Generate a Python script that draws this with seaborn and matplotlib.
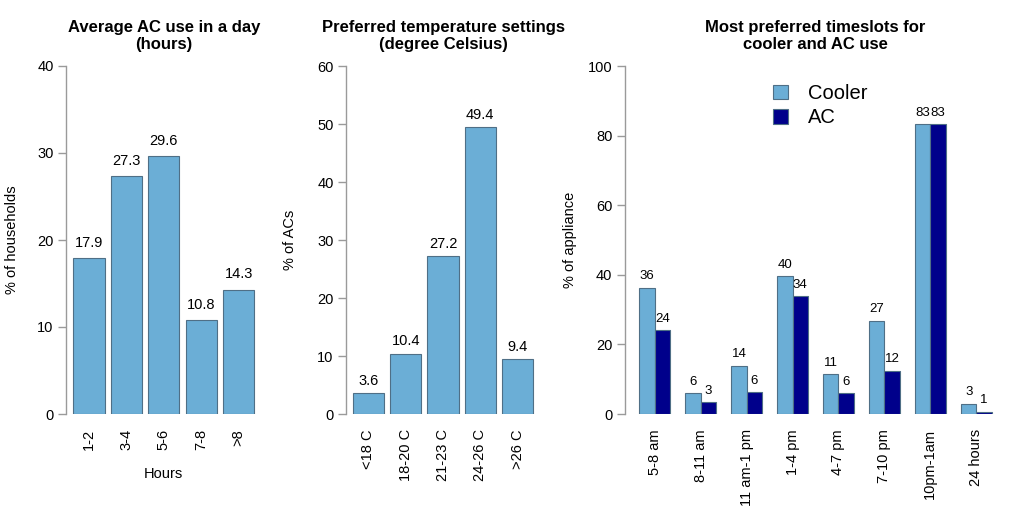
import numpy as np
import pandas as pd
import matplotlib
matplotlib.use("Agg")
import matplotlib.pyplot as plt
import matplotlib.transforms as mtrans
import seaborn as sns

# ─── Data ─────────────────────────────────────────────────────────────────────
hours_cats = ["1-2", "3-4", "5-6", "7-8", ">8"]
hours_pct = [17.9, 27.3, 29.6, 10.8, 14.3]

temp_cats = ["<18 C", "18-20 C", "21-23 C", "24-26 C", ">26 C"]
temp_pct = [3.6, 10.4, 27.2, 49.4, 9.4]

slots = ["5-8 am", "8-11 am", "11 am-1 pm", "1-4 pm", "4-7 pm", "7-10 pm", "10pm-1am", "24 hours"]
cooler_pct = [36.2, 5.9, 13.9, 39.6, 11.4, 26.8, 83.2, 2.9]
ac_pct = [24.0, 3.4, 6.3, 33.8, 5.9, 12.4, 83.2, 0.7]

LIGHT = "#6baed6"
DARK = "#00008b"
EDGE = "#4f6f86"
GREY = "#9a9a9a"

sns.set_style("white")
plt.rcParams["font.family"] = ["Liberation Sans", "DejaVu Sans"]
plt.rcParams["text.color"] = "black"
plt.rcParams["axes.labelcolor"] = "black"
plt.rcParams["xtick.color"] = "black"
plt.rcParams["ytick.color"] = "black"

W, H = 1024, 512
fig = plt.figure(figsize=(W / 100, H / 100), dpi=100)


def add_axes(left, right, top, bottom):
    return fig.add_axes([left / W, 1 - bottom / H, (right - left) / W, (bottom - top) / H])


def style_axes(ax, ymax, ystep, xlim, ylabel, ylabel_px):
    ax.set_xlim(*xlim)
    ax.set_ylim(0, ymax)
    ax.set_yticks(np.arange(0, ymax + 1, ystep))
    for s in ["top", "right", "bottom"]:
        ax.spines[s].set_visible(False)
    ax.spines["left"].set_color(GREY)
    ax.spines["left"].set_linewidth(1.0)
    ax.spines["left"].set_bounds(0, ymax)
    ax.tick_params(axis="y", length=6, width=1.0, color=GREY, labelcolor="black", pad=3,
                   labelsize=10.5, left=True)
    ax.tick_params(axis="x", length=0, pad=11, labelsize=10.5, labelrotation=90,
                   labelcolor="black")
    ax.set_xlabel("")
    ax.set_ylabel(ylabel, fontsize=10.5)
    tr = mtrans.blended_transform_factory(fig.transFigure, ax.transAxes)
    ax.yaxis.set_label_coords(ylabel_px / W, 0.5, transform=tr)
    ax.patch.set_alpha(0)


TITLE_KW = dict(fontsize=12, fontweight="bold", pad=12, linespacing=1.2, color="black")

# ─── Panel 1: hours ───────────────────────────────────────────────────────────
df1 = pd.DataFrame({"cat": hours_cats, "pct": hours_pct})
ax1 = add_axes(66, 261.6, 66, 414)
sns.barplot(data=df1, x="cat", y="pct", color=LIGHT, saturation=1, width=0.833,
            edgecolor=EDGE, linewidth=0.8, ax=ax1)
ax1.bar_label(ax1.containers[0], fmt="%.1f", padding=6, fontsize=10.5)
style_axes(ax1, 40, 10, (-0.615, 4.615), "% of households", 19)
ax1.set_xlabel("Hours", fontsize=10.5, labelpad=12)
ax1.set_title("Average AC use in a day\n(hours)", **TITLE_KW)

# ─── Panel 2: temperature ─────────────────────────────────────────────────────
df2 = pd.DataFrame({"cat": temp_cats, "pct": temp_pct})
ax2 = add_axes(346, 540, 66, 414)
sns.barplot(data=df2, x="cat", y="pct", color=LIGHT, saturation=1, width=0.833,
            edgecolor=EDGE, linewidth=0.8, ax=ax2)
ax2.bar_label(ax2.containers[0], fmt="%.1f", padding=4, fontsize=10.5)
style_axes(ax2, 60, 10, (-0.604, 4.604), "% of ACs", 297)
ax2.set_title("Preferred temperature settings\n(degree Celsius)", **TITLE_KW)

# ─── Panel 3: timeslots ───────────────────────────────────────────────────────
df3 = pd.DataFrame({
    "slot": slots * 2,
    "pct": cooler_pct + ac_pct,
    "kind": ["Cooler"] * len(slots) + ["AC"] * len(slots),
})
ax3 = add_axes(625, 1006, 66, 414)
sns.barplot(data=df3, x="slot", y="pct", hue="kind", palette=[LIGHT, DARK], saturation=1,
            width=2 / 3, edgecolor=EDGE, linewidth=0.8, ax=ax3)
for cont in ax3.containers:
    ax3.bar_label(cont, labels=[f"{v:.0f}" for v in cont.datavalues], padding=4, fontsize=9.5)
style_axes(ax3, 100, 20, (-0.646, 7.646), "% of appliance", 577)
ax3.set_title("Most preferred timeslots for\ncooler and AC use", **TITLE_KW)
sns.move_legend(ax3, "upper left", bbox_to_anchor=(0.34, 1.0), frameon=False, title=None,
                fontsize=14.5, handlelength=0.75, handleheight=0.75, handletextpad=1.0,
                labelspacing=0.25)

fig.savefig("out.png", dpi=100)
